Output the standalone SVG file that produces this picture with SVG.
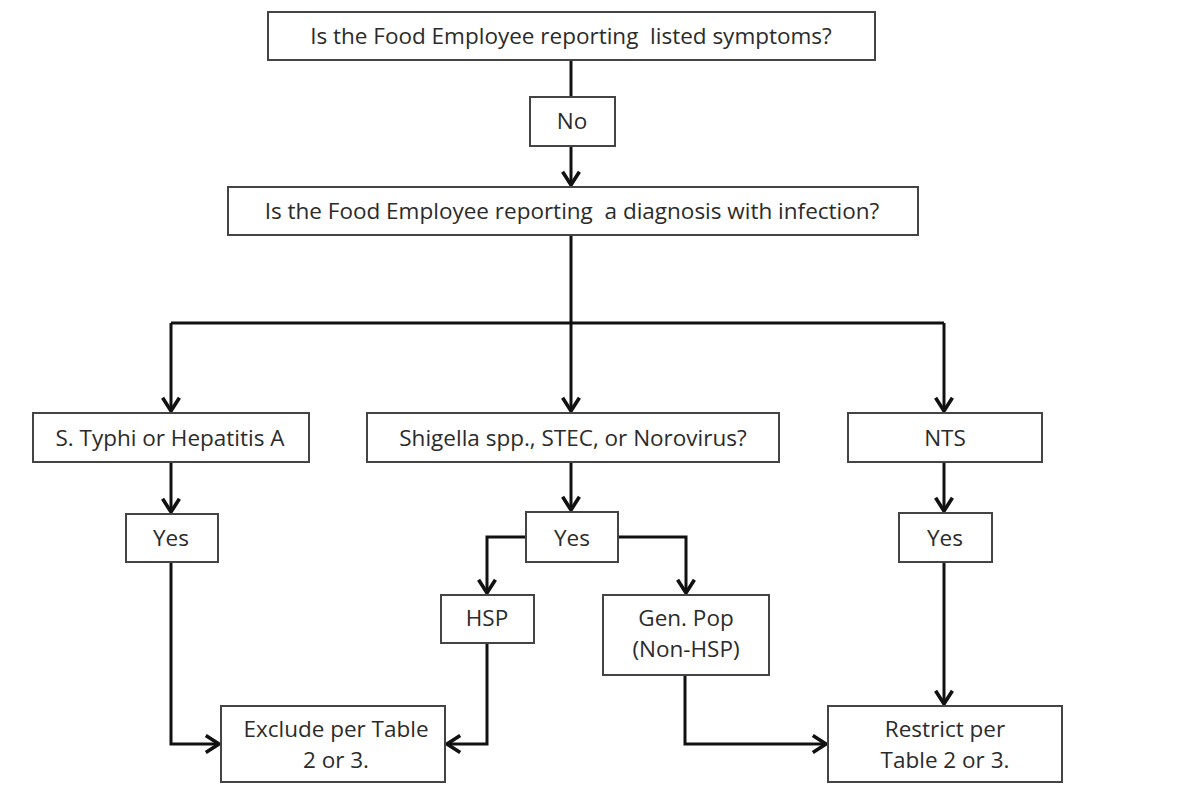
<svg xmlns="http://www.w3.org/2000/svg" width="1192" height="785" viewBox="0 0 1192 785">
<style>
.box{fill:#fff;stroke:#444;stroke-width:2}
.t{font-family:"Open Sans","Liberation Sans",sans-serif;font-size:22.5px;fill:#2b2b2b;text-anchor:middle;white-space:pre}
.c{fill:none;stroke:#111;stroke-width:3}
</style>
<defs>
<marker id="ah" markerUnits="userSpaceOnUse" markerWidth="24" markerHeight="24" viewBox="-13 -10 16 20" refX="0" refY="0" orient="auto">
<path d="M-11,-7 L0,0 L-11,7" fill="none" stroke="#111" stroke-width="3"/>
</marker>
</defs>
<rect width="1192" height="785" fill="#fff"/>
<g id="connectors">
<path class="c" d="M571,60 V97"/>
<path class="c" d="M571,146 V185" marker-end="url(#ah)"/>
<path class="c" d="M571,235 V323 M171,323 H944"/>
<path class="c" d="M171,323 V411" marker-end="url(#ah)"/>
<path class="c" d="M571,323 V411" marker-end="url(#ah)"/>
<path class="c" d="M944,323 V411" marker-end="url(#ah)"/>
<path class="c" d="M171,462 V512" marker-end="url(#ah)"/>
<path class="c" d="M571,462 V510" marker-end="url(#ah)"/>
<path class="c" d="M944,462 V511" marker-end="url(#ah)"/>
<path class="c" d="M526,537 H487 V593" marker-end="url(#ah)"/>
<path class="c" d="M618,537 H686 V593" marker-end="url(#ah)"/>
<path class="c" d="M171,562 V744 H219" marker-end="url(#ah)"/>
<path class="c" d="M487,643 V744 H447" marker-end="url(#ah)"/>
<path class="c" d="M685,675 V744 H826" marker-end="url(#ah)"/>
<path class="c" d="M944,562 V704" marker-end="url(#ah)"/>
</g>
<g id="q1"><rect class="box" x="268" y="12" width="607" height="48"/><text class="t" x="571" y="44">Is the Food Employee reporting  listed symptoms?</text></g>
<g id="no"><rect class="box" x="530" y="97" width="85" height="49"/><text class="t" x="572" y="129">No</text></g>
<g id="q2"><rect class="box" x="228" y="187" width="690" height="48"/><text class="t" x="572" y="219">Is the Food Employee reporting  a diagnosis with infection?</text></g>
<g id="typhi"><rect class="box" x="33" y="413" width="276" height="49"/><text class="t" x="170" y="446">S. Typhi or Hepatitis A</text></g>
<g id="shigella"><rect class="box" x="367" y="413" width="412" height="49"/><text class="t" x="573" y="446">Shigella spp., STEC, or Norovirus?</text></g>
<g id="nts"><rect class="box" x="848" y="413" width="194" height="49"/><text class="t" x="945" y="446">NTS</text></g>
<g id="yes1"><rect class="box" x="126" y="514" width="92" height="48"/><text class="t" x="171" y="546">Yes</text></g>
<g id="yes2"><rect class="box" x="526" y="512" width="92" height="50"/><text class="t" x="572" y="546">Yes</text></g>
<g id="yes3"><rect class="box" x="899" y="513" width="93" height="49"/><text class="t" x="945" y="546">Yes</text></g>
<g id="hsp"><rect class="box" x="441" y="595" width="93" height="48"/><text class="t" x="487" y="626">HSP</text></g>
<g id="genpop"><rect class="box" x="603" y="595" width="166" height="80"/><text class="t" x="686" y="626">Gen. Pop</text><text class="t" x="686" y="657">(Non-HSP)</text></g>
<g id="exclude"><rect class="box" x="221" y="706" width="224" height="76"/><text class="t" x="336" y="737">Exclude per Table</text><text class="t" x="336" y="768">2 or 3.</text></g>
<g id="restrict"><rect class="box" x="828" y="706" width="234" height="76"/><text class="t" x="945" y="737">Restrict per</text><text class="t" x="945" y="768">Table 2 or 3.</text></g>
</svg>
